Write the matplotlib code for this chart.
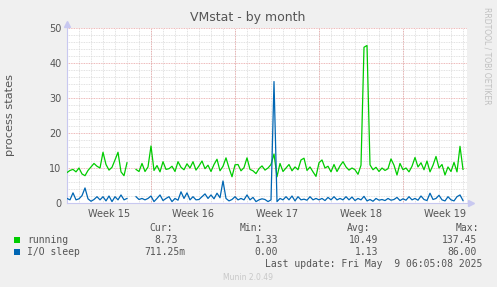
import numpy as np
import matplotlib
matplotlib.use("Agg")
from matplotlib import pyplot as plt

# Munin "VMstat - by month", samples every 6 hours
running = [8.7, 9.3, 9.6, 8.9, 10.0, 8.3, 7.8, 9.3, 10.3, 11.3,
           10.5, 10.0, 14.5, 11.0, 9.4, 10.2, 12.3, 14.5, 8.9, 7.8,
           11.5, np.nan, np.nan, 9.6, 9.0, 11.3, 9.0, 10.3, 16.3, 9.3,
           10.7, 8.9, 11.8, 9.6, 9.8, 10.5, 9.0, 11.8, 10.2, 9.5,
           11.2, 10.0, 11.8, 9.4, 10.6, 12.0, 9.8, 10.8, 9.0, 11.0,
           12.5, 9.2, 10.5, 12.9, 10.0, 7.5, 10.9, 11.0, 9.2, 10.1,
           12.9, 9.6, 9.2, 8.4, 9.8, 10.6, 9.4, 10.0, 11.0, 14.0,
           7.5, 11.3, 9.0, 10.0, 11.0, 9.2, 10.3, 9.5, 12.3, 12.8,
           9.3, 10.3, 8.9, 7.6, 11.5, 12.3, 10.0, 10.5, 8.9, 11.0,
           9.0, 10.6, 11.8, 10.3, 9.4, 10.0, 9.5, 8.2, 10.8, 44.5,
           45.0, 10.9, 9.5, 10.2, 9.0, 10.0, 9.3, 9.8, 12.6, 10.8,
           8.0, 11.3, 9.5, 10.0, 8.9, 10.5, 13.0, 10.3, 11.5, 9.5,
           12.0, 8.9, 10.8, 13.3, 10.0, 11.0, 8.0, 10.3, 9.0, 11.6,
           8.9, 16.2, 9.6]
io_sleep = [1.3, 0.9, 2.9, 0.9, 1.2, 2.1, 4.3, 1.2, 0.5, 1.0,
            1.8, 0.9, 1.8, 0.6, 2.0, 0.4, 1.8, 0.9, 2.3, 0.9,
            1.3, np.nan, np.nan, 1.8, 1.0, 1.3, 0.9, 1.3, 2.0, 0.4,
            1.3, 2.3, 0.7, 1.3, 1.8, 0.4, 1.3, 0.8, 3.2, 1.3,
            2.9, 0.9, 1.8, 0.9, 1.0, 1.8, 2.6, 1.3, 2.3, 1.2,
            2.8, 1.5, 6.3, 1.3, 0.6, 1.0, 1.8, 0.9, 1.3, 0.9,
            2.3, 0.9, 1.6, 0.4, 0.9, 1.2, 1.0, 0.4, 0.9, 34.7,
            0.4, 1.3, 0.9, 1.8, 0.9, 2.0, 0.6, 1.8, 0.9, 1.1,
            0.8, 1.8, 0.9, 1.3, 0.9, 1.3, 0.7, 1.6, 0.9, 1.8,
            0.9, 1.3, 0.9, 1.8, 0.9, 1.7, 0.7, 1.3, 0.9, 1.9,
            0.6, 1.0, 0.5, 1.3, 0.8, 1.0, 0.7, 1.3, 0.8, 1.0,
            1.6, 0.7, 1.2, 0.8, 1.8, 0.9, 1.3, 0.8, 2.0, 1.0,
            0.7, 2.8, 1.0, 1.3, 2.2, 0.9, 0.6, 1.8, 0.9, 0.6,
            1.8, 2.3, 0.7]
week_labels = ["Week 15", "Week 16", "Week 17", "Week 18", "Week 19"]
series_names = ["running", "I/O sleep"]
cur = ["8.73", "711.25m"]
vmin = ["1.33", "0.00"]
avg = ["10.49", "1.13"]
vmax = ["137.45", "86.00"]
colors = ["#00CC00", "#0066B3"]

days = np.arange(len(running)) * 0.25

W, H = 497, 287
fig = plt.figure(figsize=(W / 100, H / 100), dpi=100, facecolor="#F0F0F0")
ax = fig.add_axes([67 / W, 84 / H, 400 / W, 175 / H])
ax.set_facecolor("white")

ax.set_xlim(0, 400 / 12)
ax.set_ylim(0, 50)

# grid
ax.set_xticks(np.arange(1, 34), minor=True)
ax.set_yticks(np.arange(0, 51, 2), minor=True)
ax.set_yticks(np.arange(0, 51, 10))
ax.set_xticks([3.5, 10.5, 17.5, 24.5, 31.5])
ax.set_xticklabels(week_labels)
ax.grid(which="minor", color="#D8D8D8", linestyle=(0, (1, 1)), linewidth=0.6)
ax.grid(which="major", axis="y", color="#E8A0A0", linestyle=(0, (1, 1)), linewidth=0.6)
for d in [7, 14, 21, 28]:
    ax.axvline(d, color="#E8A0A0", linestyle=(0, (1, 1)), linewidth=0.6, zorder=1.5)
ax.set_axisbelow(True)

ax.tick_params(which="both", length=0, labelsize=7, colors="#555555", pad=4)

for s in ["top", "right"]:
    ax.spines[s].set_visible(False)
for s in ["left", "bottom"]:
    ax.spines[s].set_color("#C8C8F0")
    ax.spines[s].set_linewidth(0.8)
ax.plot(0, 1.025, marker="^", color="#C8C8F0", markersize=4, transform=ax.transAxes, clip_on=False)
ax.plot(1.01, 0, marker=">", color="#C8C8F0", markersize=4, transform=ax.transAxes, clip_on=False)

ax.plot(days, running, color=colors[0], linewidth=0.9, zorder=3)
ax.plot(days, io_sleep, color=colors[1], linewidth=0.9, zorder=3)

fig.text(248 / W, 1 - 18 / H, "VMstat - by month", ha="center", va="center", fontsize=9, color="#555555")
fig.text(10 / W, 1 - 115 / H, "process states", rotation=90, ha="center", va="center", fontsize=8.2, color="#555555")
fig.text(487 / W, 1 - 56 / H, "RRDTOOL / TOBI OETIKER", rotation=270, ha="center", va="center", fontsize=5.5, color="#C0C0C0")

mono = dict(family="DejaVu Sans Mono", fontsize=7, color="#555555", va="center")
fy = lambda y: 1 - y / H
fig.text(173 / W, fy(228), "Cur:", ha="right", **mono)
fig.text(263 / W, fy(228), "Min:", ha="right", **mono)
fig.text(370 / W, fy(228), "Avg:", ha="right", **mono)
fig.text(479 / W, fy(228), "Max:", ha="right", **mono)
for i, y in enumerate([240, 252]):
    fig.patches.append(plt.Rectangle((14 / W, fy(y + 3)), 6 / W, 6 / H, transform=fig.transFigure,
                                     facecolor=colors[i], edgecolor="none"))
    fig.text(27 / W, fy(y), series_names[i], ha="left", **mono)
    cx = 185 if cur[i].endswith("m") else 178
    fig.text(cx / W, fy(y), cur[i], ha="right", **mono)
    fig.text(278 / W, fy(y), vmin[i], ha="right", **mono)
    fig.text(378 / W, fy(y), avg[i], ha="right", **mono)
    fig.text(477 / W, fy(y), vmax[i], ha="right", **mono)
fig.text(482 / W, fy(264), "Last update: Fri May  9 06:05:08 2025", ha="right", **mono)
fig.text(248 / W, fy(277), "Munin 2.0.49", ha="center", va="center", fontsize=5.5, color="#C8C8C8")

plt.savefig("out.png", dpi=100, facecolor=fig.get_facecolor())
